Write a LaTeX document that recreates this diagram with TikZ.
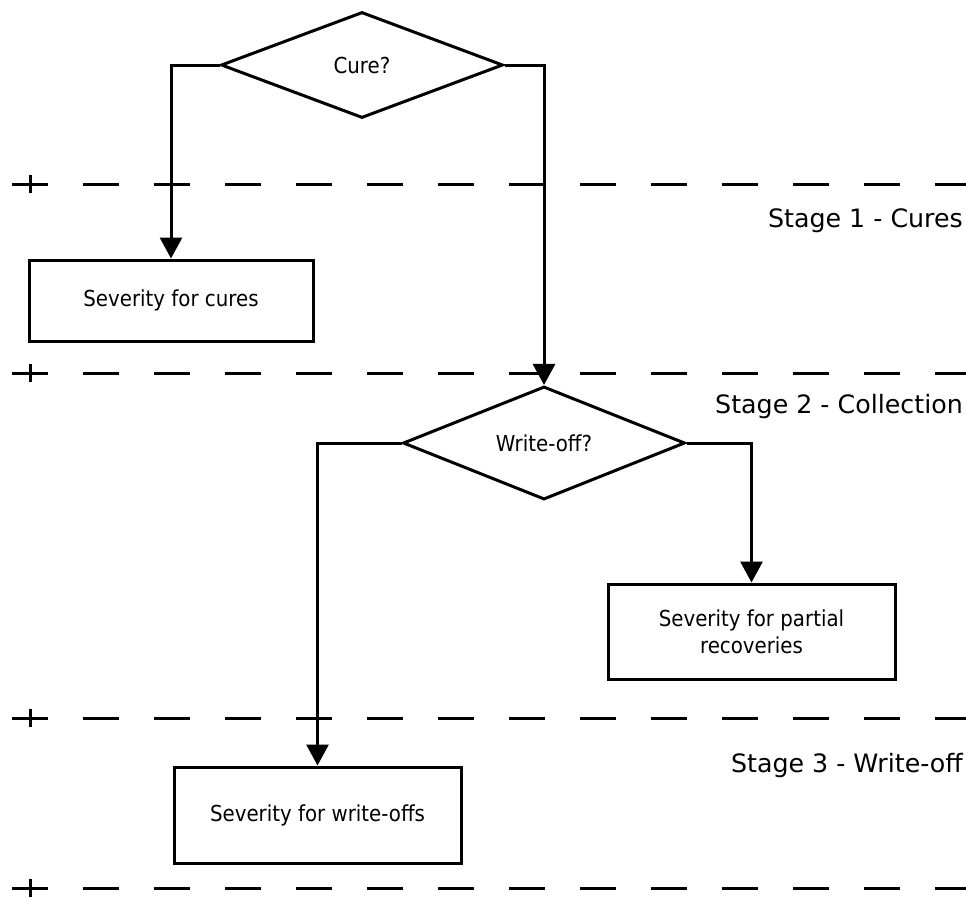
\documentclass[tikz,border=0pt]{standalone}
\usepackage{fontspec}
\setmainfont{DejaVu Sans}
\newfontfamily\boxfont[FakeStretch=0.9]{DejaVu Sans}
\usetikzlibrary{shapes.geometric,arrows.meta}
\tikzset{
  boxtext/.style={font=\boxfont\fontsize{22}{27}\selectfont},
  stepbox/.style={draw, line width=3pt, rectangle, inner sep=0pt, boxtext, align=center},
  decision/.style={draw, line width=3pt, diamond, inner sep=0pt, boxtext},
  flow/.style={line width=3pt, -{Triangle[width=22pt,length=21pt]}},
  stageline/.style={line width=3pt, dash pattern=on 36pt off 35pt},
  plusmark/.style={line width=3pt},
  stagelabel/.style={font=\fontsize{25.3}{30}\selectfont, anchor=base east, inner sep=0pt}
}
\begin{document}
\begin{tikzpicture}[x=1pt,y=-1pt]
\useasboundingbox (0,0) rectangle (966,897);
% decisions and boxes
\node[decision, minimum width=282pt, minimum height=106pt] (d1) at (362,65) {Cure?};
\node[stepbox, minimum width=284pt, minimum height=81pt] (b1) at (171,300.5) {Severity for cures};
\node[decision, minimum width=282pt, minimum height=108pt] (d2) at (544,443) {Write-off?};
\node[stepbox, minimum width=287pt, minimum height=95pt] (b2) at (751.5,631.5) {Severity for partial\\recoveries};
\node[stepbox, minimum width=287pt, minimum height=96pt] (b3) at (317.5,815) {Severity for write-offs};
% connectors
\draw[flow] (d1.west) -| (b1.north);
\draw[flow] (d1.east) -| (d2.north);
\draw[flow] (d2.west) -| (b3.north);
\draw[flow] (d2.east) -| (b2.north);
% stage separators
\foreach \yy in {184,373,718,888} {
  \draw[stageline] (12,\yy) -- (966,\yy);
  \draw[plusmark] (30,\yy-9) -- (30,\yy+9);
}
% stage labels
\node[stagelabel] (s1) at (963,227) {Stage 1 - Cures};
\node[stagelabel] (s2) at (963,413) {Stage 2 - Collection};
\node[stagelabel] (s3) at (963,772) {Stage 3 - Write-off};
\end{tikzpicture}
\end{document}
